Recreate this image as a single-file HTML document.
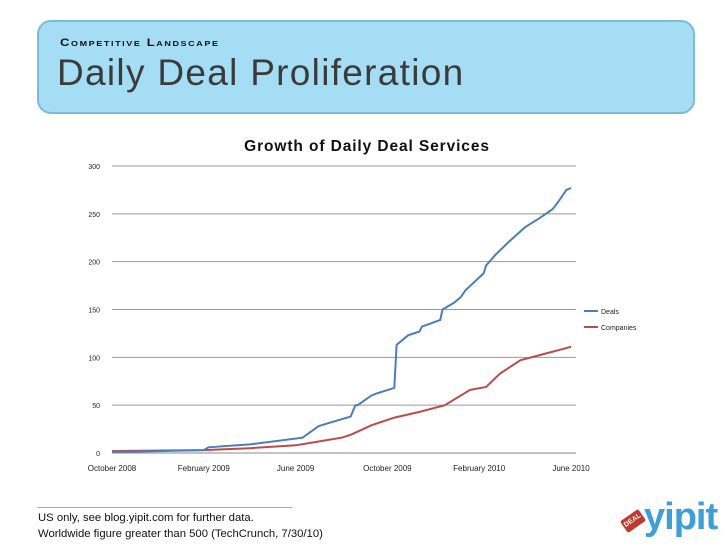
<!DOCTYPE html>
<html><head><meta charset="utf-8"><style>
body{margin:0;width:728px;height:546px;background:#fff;overflow:hidden;position:relative;font-family:"Liberation Sans",sans-serif}
#hdr{position:absolute;left:37px;top:20px;width:654px;height:90px;border:2px solid #7dbbd9;border-radius:14px;background:#a5ddf5}
#sub{position:absolute;left:21px;top:14px;font-weight:900;font-size:13px;color:#111;font-variant:small-caps;letter-spacing:1.6px;transform:scaleY(0.85);transform-origin:left top}
#big{position:absolute;left:18px;top:30px;font-size:37px;color:#3b3b3b;letter-spacing:1.3px;font-family:"Liberation Sans",sans-serif}
#foot{position:absolute;left:38px;top:510px;font-size:11.3px;color:#111;line-height:16px;font-family:"Liberation Sans",sans-serif}
</style></head><body>
<div id="hdr">
<div id="sub">Competitive Landscape</div>
<div id="big">Daily Deal Proliferation</div>
</div>
<svg id="ch" width="728" height="546" style="position:absolute;left:0;top:0"></svg>
<div style="position:absolute;left:37px;top:507px;width:255px;border-top:1px solid #aaa"></div>
<div id="foot">US only, see blog.yipit.com for further data.<br>Worldwide figure greater than 500 (TechCrunch, 7/30/10)</div>
<div style="position:absolute;left:620px;top:502px;width:100px;height:44px">
<div style="position:absolute;left:2px;top:12px;width:22px;height:14px;background:#c0392b;transform:rotate(-35deg);border-radius:2px;color:#fff;font-size:7px;font-weight:bold;text-align:center;line-height:14px">DEAL</div>
<div style="position:absolute;left:24px;top:-6px;font-size:38px;font-weight:bold;color:#3d9fd6;letter-spacing:-1px">yipit</div>
</div>
<script>
const tickLabels=["0","50","100","150","200","250","300"];
const tickValues=[0,50,100,150,200,250,300];
const monthLabels=["October 2008","February 2009","June 2009","October 2009","February 2010","June 2010"];
const monthTicks=[0,4,8,12,16,20];
const dealsX=[0,4,4.2,6,8.3,9,9.4,10.4,10.6,10.7,11.3,11.5,12.3,12.4,12.9,13.4,13.5,14.3,14.4,14.9,15.2,15.4,16.2,16.3,16.7,17.3,18.0,18.6,19.2,19.4,19.8,20];
const dealsY=[1,3,6,9,16,28,31,38,50,50,60,62,68,113,123,127,132,139,150,157,163,170,188,196,207,221,236,245,255,261,275,277];
const compX=[0,4,6,8,9,10,10.4,11.3,12.3,13.4,14.5,15.6,16.3,16.9,17.8,18.9,20];
const compY=[2,3,5,8,12,16,19,29,37,43,50,66,69,83,97,104,111];
const svg=document.getElementById('ch');const NS='http://www.w3.org/2000/svg';
const X0=112,X1=571,Y0=453,Y1=166;
const sx=m=>X0+(X1-X0)*m/20, sy=v=>Y0-(Y0-Y1)*v/300;
function mk(t,a,txt){const e=document.createElementNS(NS,t);for(const k in a)e.setAttribute(k,a[k]);if(txt!==undefined)e.textContent=txt;svg.appendChild(e);return e;}
let e=mk('text',{x:367,y:151,'text-anchor':'middle','font-size':15.5,'font-weight':'bold',fill:'#111','letter-spacing':'0.9'},'Growth of Daily Deal Services');


tickValues.forEach((v,i)=>{
 const g=mk('line',{x1:X0,x2:576,y1:sy(v),y2:sy(v),stroke:i==0?'#888':'#999','stroke-width':1});
 
 
 const t=mk('text',{x:100,y:sy(v)+3,'text-anchor':'end','font-size':7,fill:'#222'},tickLabels[i]);
 
 
});
monthTicks.forEach((m,i)=>{
 const t=mk('text',{x:sx(m),y:471,'text-anchor':'middle','font-size':8,fill:'#222'},monthLabels[i]);
 
 
});
function path(xs,ys){let d='';xs.forEach((m,i)=>{d+=(i?'L':'M')+sx(m).toFixed(1)+' '+sy(ys[i]).toFixed(1)+' ';});return d;}
const l1=mk('path',{d:path(compX,compY),fill:'none',stroke:'#be4b48','stroke-width':2});


const l2=mk('path',{d:path(dealsX,dealsY),fill:'none',stroke:'#4a7ebb','stroke-width':2});


[['Deals','#4a7ebb',311],['Companies','#be4b48',327]].forEach(([n,c,y])=>{
 const a=mk('line',{x1:584,x2:598,y1:y,y2:y,stroke:c,'stroke-width':2});
 
 
 const t=mk('text',{x:601,y:y+3,'font-size':7,fill:'#222'},n);
 
 
});
</script>
</body></html>
